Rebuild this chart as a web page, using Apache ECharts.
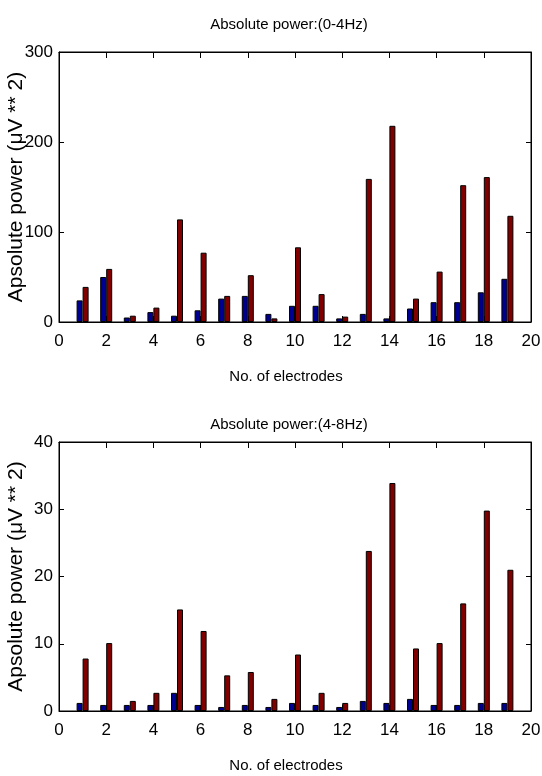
<!DOCTYPE html>
<html>
<head>
<meta charset="utf-8">
<script src="https://cdn.jsdelivr.net/npm/echarts@6/dist/echarts.min.js"></script>
<style>
  html, body { margin: 0; padding: 0; background: #fff; }
  .chart { width: 542px; height: 388px; }
</style>
</head>
<body>
<div id="delta" class="chart"></div>
<div id="theta" class="chart"></div>
<script>
// electrode numbers
const electrodes = [1, 2, 3, 4, 5, 6, 7, 8, 9, 10, 11, 12, 13, 14, 15, 16, 17, 18, 19]

// 0-4Hz
const deltaBlue = [24, 50, 5, 11, 7, 13, 26, 29, 9, 18, 18, 4, 9, 4, 15, 22, 22, 33, 48]
const deltaRed = [39, 59, 7, 16, 114, 77, 29, 52, 4, 83, 31, 6, 159, 218, 26, 56, 152, 161, 118]

// 4-8Hz
const thetaBlue = [1.2, 0.9, 0.9, 0.9, 2.7, 0.9, 0.6, 0.9, 0.6, 1.2, 0.9, 0.6, 1.5, 1.2, 1.8, 0.9, 0.9, 1.2, 1.2]
const thetaRed = [7.8, 10.1, 1.5, 2.7, 15.1, 11.9, 5.3, 5.8, 1.8, 8.4, 2.7, 1.2, 23.8, 33.9, 9.3, 10.1, 16.0, 29.8, 21.0]

const font = "'Liberation Sans', Arial, sans-serif"

function pairs(values) {
  return electrodes.map((x, i) => [x, values[i]])
}

function loadBar(divId, cfg) {
  let myChart = echarts.init(document.getElementById(divId))
  const tickX = { show: true, inside: true, length: 6, lineStyle: { color: '#000' } }
  const tickY = { show: true, inside: true, length: 5, lineStyle: { color: '#000' } }
  const line = { show: true, onZero: false, lineStyle: { color: '#000', width: 1 } }
  myChart.setOption({
    animation: false,
    title: {
      text: cfg.title,
      left: 284,
      textAlign: 'center',
      top: cfg.titleTop,
      textStyle: { fontFamily: font, fontSize: 15, fontWeight: 'normal', color: '#000' }
    },
    grid: {
      left: 59,
      right: 11,
      top: cfg.top,
      bottom: cfg.bottom,
      containLabel: false,
      outerBoundsMode: 'none',
      show: true,
      borderColor: '#000',
      borderWidth: 1
    },
    xAxis: [
      {
        type: 'value',
        min: 0,
        max: 20,
        interval: 2,
        name: 'No. of electrodes',
        nameLocation: 'middle',
        nameGap: 47,
        nameMoveOverlap: false,
        nameTextStyle: { fontFamily: font, fontSize: 15, color: '#000', padding: [0, 18, 0, 0] },
        axisLine: line,
        axisTick: tickX,
        splitLine: { show: false },
        axisLabel: { margin: 11, fontFamily: font, fontSize: 17, color: '#000' }
      },
      {
        type: 'value',
        position: 'top',
        min: 0,
        max: 20,
        interval: 2,
        axisLine: line,
        axisTick: tickX,
        splitLine: { show: false },
        axisLabel: { show: false }
      }
    ],
    yAxis: [
      {
        type: 'value',
        min: 0,
        max: cfg.yMax,
        interval: cfg.yStep,
        name: 'Apsolute power (μV ** 2)',
        nameLocation: 'middle',
        nameGap: 32,
        nameMoveOverlap: false,
        nameTextStyle: { fontFamily: font, fontSize: 21, color: '#000' },
        axisLine: line,
        axisTick: tickY,
        splitLine: { show: false },
        axisLabel: { margin: 6, fontFamily: font, fontSize: 17, color: '#000' }
      },
      {
        type: 'value',
        position: 'right',
        min: 0,
        max: cfg.yMax,
        interval: cfg.yStep,
        axisLine: line,
        axisTick: tickY,
        splitLine: { show: false },
        axisLabel: { show: false }
      }
    ],
    series: [
      {
        type: 'bar',
        xAxisIndex: 0,
        yAxisIndex: 0,
        barWidth: 6,
        barGap: '0%',
        data: pairs(cfg.blue),
        itemStyle: { color: '#000090', borderColor: '#000', borderWidth: 1 }
      },
      {
        type: 'bar',
        xAxisIndex: 0,
        yAxisIndex: 0,
        barWidth: 6,
        barGap: '0%',
        data: pairs(cfg.red),
        itemStyle: { color: '#800000', borderColor: '#000', borderWidth: 1 }
      }
    ]
  })
}

loadBar('delta', {
  title: 'Absolute power:(0-4Hz)',
  titleTop: 12,
  top: 52,
  bottom: 66,
  yMax: 300,
  yStep: 100,
  blue: deltaBlue,
  red: deltaRed
})

loadBar('theta', {
  title: 'Absolute power:(4-8Hz)',
  titleTop: 24,
  top: 54,
  bottom: 65,
  yMax: 40,
  yStep: 10,
  blue: thetaBlue,
  red: thetaRed
})
</script>
</body>
</html>
